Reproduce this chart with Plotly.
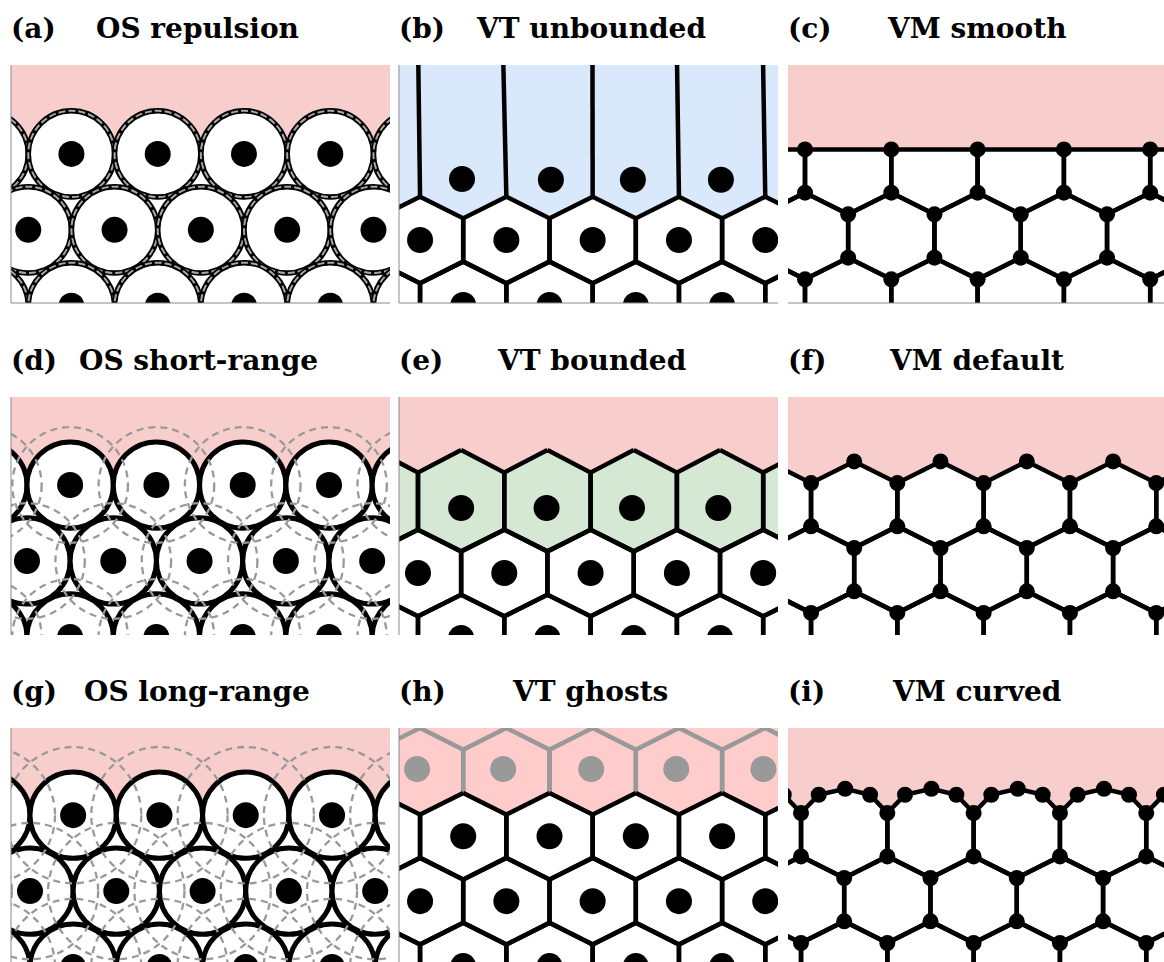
import math
import plotly.graph_objects as go

# ---------------------------------------------------------------- figure frame
FIG_W, FIG_H = 1164, 962
PX_X = 86.3        # pixels per lattice spacing (horizontal)
PX_Y_OS = 86.3     # circle panels: 1:1 aspect
PX_Y_HEX = 75.0    # tessellation / vertex panels: vertically squashed

COL_LEFT = [11, 399, 788]
COL_RIGHT = [390, 778, 1164]
ROW_TOP = [65, 397, 728]
ROW_BOTTOM = [303, 635, 962]
TITLE_Y = [28, 360, 691]

PINK = "#f8cecc"
PINK_GHOST = "#ffcccc"
BLUE = "#dae8fc"
GREEN = "#d5e8d4"
GREY = "#999999"
EDGE_W = 4.5

# ---------------------------------------------------------------- panel text
panel_labels = ["(a)", "(b)", "(c)", "(d)", "(e)", "(f)", "(g)", "(h)", "(i)"]
panel_titles = ["OS repulsion", "VT unbounded", "VM smooth",
                "OS short-range", "VT bounded", "VM default",
                "OS long-range", "VT ghosts", "VM curved"]
title_centres = [197, 591, 977, 198, 591, 976, 197, 590, 976]

# ---------------------------------------------------------------- lattice data (lattice units)
# off-lattice spheres: x of first centre in top row, row heights
os_rep_x0, os_rep_rows = 0.70, [1.03, 1.91, 2.79]
os_short_x0, os_short_rows = 0.685, [1.02, 1.90, 2.78]
os_long_x0, os_long_rows = 0.72, [1.01, 1.89, 2.77]
cell_radius = 0.5
short_range_radius = 0.67
long_range_radius = 0.79

# Voronoi tessellation, unbounded boundary cells
vt_unb_rows_x0 = [0.244, 0.744]
vt_unb_rows_y = [2.333, 3.199]
vt_unb_top_x = [0.73, 1.76, 2.71, 3.73]
vt_unb_top_y = [1.52, 1.53, 1.53, 1.53]
vt_unb_ray_top_x = [0.224, 1.209, 2.242, 3.222, 4.219]

# Voronoi tessellation, bounded boundary cells
vt_bnd_rows_x0 = [0.22, 0.72]
vt_bnd_rows_y = [2.347, 3.213]
vt_bnd_top_x0 = 0.72
vt_bnd_top_apex_y = 0.707
vt_bnd_top_shoulder_y = 1.007
vt_bnd_top_nuc_x = [0.72, 1.71, 2.70, 3.70]
vt_bnd_top_nuc_y = [1.48, 1.48, 1.48, 1.48]

# Voronoi tessellation with ghost cells
vt_gh_ghost_x0, vt_gh_ghost_y = 0.244, 0.577
vt_gh_rows_x0 = [0.744, 0.244, 0.744]
vt_gh_rows_y = [1.443, 2.309, 3.175]
vt_gh_ghost_nuc_x = [0.209, 1.207, 2.227, 3.213, 4.223]
vt_gh_ghost_nuc_y = [0.547, 0.547, 0.547, 0.547, 0.547]

# vertex models
vm_smooth_top_x0, vm_smooth_top_y = 0.697, 1.414
vm_smooth_rows_x0, vm_smooth_rows_y = [0.197, 0.697], [2.28, 3.146]
vm_default_top_x0, vm_default_top_y = 0.767, 1.436
vm_default_rows_x0, vm_default_rows_y = [0.267, 0.767], [2.302, 3.168]
vm_curved_top_x0, vm_curved_top_y = 0.651, 1.423
vm_curved_rows_x0, vm_curved_rows_y = [0.151, 0.651], [2.289, 3.155]
vm_curved_arc_frac = [0.205, 0.511, 0.80]
vm_curved_arc_rise = [0.244, 0.324, 0.244]

# ---------------------------------------------------------------- helpers
HR = 1 / math.sqrt(3)   # hexagon circumradius for unit spacing
COLS = range(-1, 6)

fig = go.Figure()
shapes = []
annotations = []
axes = {}


def ids(p):
    n = "" if p == 0 else str(p + 1)
    return "x" + n, "y" + n


def hexagon(cx, cy):
    pts = [(cx, cy - HR), (cx + 0.5, cy - HR / 2), (cx + 0.5, cy + HR / 2),
           (cx, cy + HR), (cx - 0.5, cy + HR / 2), (cx - 0.5, cy - HR / 2)]
    return pts + [pts[0]]


def centres(rows_x0, rows_y):
    return [(x0 + k, y) for x0, y in zip(rows_x0, rows_y) for k in COLS]


def add_paths(p, paths, color="black", width=EDGE_W):
    xid, yid = ids(p)
    xs, ys = [], []
    for path in paths:
        for x, y in path:
            xs.append(x)
            ys.append(y)
        xs.append(None)
        ys.append(None)
    fig.add_trace(go.Scatter(x=xs, y=ys, mode="lines", xaxis=xid, yaxis=yid,
                             line=dict(color=color, width=width, simplify=False),
                             hoverinfo="skip"))


def add_fill(p, poly, color):
    xid, yid = ids(p)
    xs = [q[0] for q in poly] + [poly[0][0]]
    ys = [q[1] for q in poly] + [poly[0][1]]
    fig.add_trace(go.Scatter(x=xs, y=ys, mode="lines", fill="toself", fillcolor=color,
                             line=dict(width=0, color=color), xaxis=xid, yaxis=yid,
                             hoverinfo="skip"))


def add_dots(p, pts, size, color="black"):
    xid, yid = ids(p)
    fig.add_trace(go.Scatter(x=[q[0] for q in pts], y=[q[1] for q in pts], mode="markers",
                             xaxis=xid, yaxis=yid, cliponaxis=True,
                             marker=dict(size=size, color=color, line=dict(width=0)),
                             hoverinfo="skip"))


def upper_zigzag(x0, yc):
    pts = []
    for k in range(-2, 7):
        pts += [(x0 + k - 0.5, yc - HR / 2), (x0 + k, yc - HR)]
    return pts


def lower_zigzag(x0, yc):
    pts = []
    for k in range(-2, 7):
        pts += [(x0 + k - 0.5, yc + HR / 2), (x0 + k, yc + HR)]
    return pts


def medium_above(zz):
    return [(zz[0][0], -1)] + zz + [(zz[-1][0], -1)]


def unique(pts):
    seen, out = set(), []
    for x, y in pts:
        key = (round(x, 3), round(y, 3))
        if key not in seen:
            seen.add(key)
            out.append((x, y))
    return out


# ---------------------------------------------------------------- axes
for p in range(9):
    r, c = divmod(p, 3)
    sy = PX_Y_OS if c == 0 else PX_Y_HEX
    n = "" if p == 0 else str(p + 1)
    xid, yid = ids(p)
    axes["xaxis" + n] = dict(domain=[COL_LEFT[c] / FIG_W, COL_RIGHT[c] / FIG_W],
                             range=[0, (COL_RIGHT[c] - COL_LEFT[c]) / PX_X],
                             anchor=yid, visible=False, fixedrange=True)
    axes["yaxis" + n] = dict(domain=[1 - ROW_BOTTOM[r] / FIG_H, 1 - ROW_TOP[r] / FIG_H],
                             range=[(ROW_BOTTOM[r] - ROW_TOP[r]) / sy, 0],
                             anchor=xid, visible=False, fixedrange=True)


# ---------------------------------------------------------------- off-lattice sphere panels
def os_panel(p, x0, rows_y, halo_radius, overlay_ring):
    xid, yid = ids(p)
    rows_x0 = [x0 - 0.5 * (j % 2) for j in range(len(rows_y))]
    cells = centres(rows_x0, rows_y)
    shapes.append(dict(type="rect", xref=xid, yref=yid, x0=-2, x1=7, y0=-1, y1=rows_y[0],
                       fillcolor=PINK, line=dict(width=0), layer="below"))
    for cx, cy in cells:
        shapes.append(dict(type="circle", xref=xid, yref=yid,
                           x0=cx - cell_radius, x1=cx + cell_radius,
                           y0=cy - cell_radius, y1=cy + cell_radius,
                           fillcolor="white", line=dict(color="black", width=5.5 if overlay_ring else 5),
                           layer="below"))
        if overlay_ring:
            shapes.append(dict(type="circle", xref=xid, yref=yid,
                               x0=cx - cell_radius, x1=cx + cell_radius,
                               y0=cy - cell_radius, y1=cy + cell_radius,
                               line=dict(color="#a6a6a6", width=2, dash="7px,3px"),
                               layer="below"))
    if halo_radius:
        for cx, cy in cells:
            shapes.append(dict(type="circle", xref=xid, yref=yid,
                               x0=cx - halo_radius, x1=cx + halo_radius,
                               y0=cy - halo_radius, y1=cy + halo_radius,
                               line=dict(color=GREY, width=2.3, dash="7px,5px"),
                               layer="below"))
    add_dots(p, cells, 26)


os_panel(0, os_rep_x0, os_rep_rows, None, True)
os_panel(3, os_short_x0, os_short_rows, short_range_radius, False)
os_panel(6, os_long_x0, os_long_rows, long_range_radius, False)

# ---------------------------------------------------------------- (b) VT unbounded
zz = upper_zigzag(vt_unb_rows_x0[0], vt_unb_rows_y[0])
add_fill(1, medium_above(zz), BLUE)
cells = centres(vt_unb_rows_x0, vt_unb_rows_y)
rays = [[(vt_unb_rows_x0[0] + i, vt_unb_rows_y[0] - HR), (xt, 0.0)]
        for i, xt in enumerate(vt_unb_ray_top_x)]
add_paths(1, [hexagon(cx, cy) for cx, cy in cells] + rays)
add_dots(1, cells + list(zip(vt_unb_top_x, vt_unb_top_y)), 26)

# ---------------------------------------------------------------- (e) VT bounded
add_fill(4, [(-2, -1), (7, -1), (7, vt_bnd_top_shoulder_y), (-2, vt_bnd_top_shoulder_y)], PINK)
top_cells = []
y_low = vt_bnd_rows_y[0] - HR
y_bot = vt_bnd_rows_y[0] - HR / 2
for k in COLS:
    cx = vt_bnd_top_x0 + k
    top_cells.append([(cx, vt_bnd_top_apex_y), (cx + 0.5, vt_bnd_top_shoulder_y),
                      (cx + 0.5, y_low), (cx, y_bot), (cx - 0.5, y_low),
                      (cx - 0.5, vt_bnd_top_shoulder_y), (cx, vt_bnd_top_apex_y)])
for poly in top_cells:
    add_fill(4, poly[:-1], GREEN)
cells = centres(vt_bnd_rows_x0, vt_bnd_rows_y)
add_paths(4, top_cells + [hexagon(cx, cy) for cx, cy in cells])
add_dots(4, list(zip(vt_bnd_top_nuc_x, vt_bnd_top_nuc_y)) + cells, 26)

# ---------------------------------------------------------------- (h) VT ghosts
zz = lower_zigzag(vt_gh_ghost_x0, vt_gh_ghost_y)
add_fill(7, medium_above(zz), PINK_GHOST)
ghosts = centres([vt_gh_ghost_x0], [vt_gh_ghost_y])
add_paths(7, [hexagon(cx, cy) for cx, cy in ghosts], color=GREY)
cells = centres(vt_gh_rows_x0, vt_gh_rows_y)
add_paths(7, [hexagon(cx, cy) for cx, cy in cells])
add_dots(7, list(zip(vt_gh_ghost_nuc_x, vt_gh_ghost_nuc_y)), 26, color=GREY)
add_dots(7, cells, 26)


# ---------------------------------------------------------------- vertex model panels
def vm_lower_rows(rows_x0, rows_y):
    return [hexagon(cx, cy) for cx, cy in centres(rows_x0, rows_y)]


VERTEX_SIZE = 16

# (c) smooth: boundary cells capped by a straight edge through their shoulders
y_cap = vm_smooth_top_y - HR / 2
add_fill(2, [(-2, -1), (7, -1), (7, y_cap), (-2, y_cap)], PINK)
paths = [[(-2, y_cap), (7, y_cap)]]
for k in COLS:
    cx = vm_smooth_top_x0 + k
    paths.append([(cx - 0.5, y_cap), (cx - 0.5, vm_smooth_top_y + HR / 2), (cx, vm_smooth_top_y + HR),
                  (cx + 0.5, vm_smooth_top_y + HR / 2), (cx + 0.5, y_cap)])
paths += vm_lower_rows(vm_smooth_rows_x0, vm_smooth_rows_y)
add_paths(2, paths)
add_dots(2, unique([q for path in paths[1:] for q in path]), VERTEX_SIZE)

# (f) default: boundary cells are regular hexagons
zz = upper_zigzag(vm_default_top_x0, vm_default_top_y)
add_fill(5, medium_above(zz), PINK)
paths = [hexagon(cx, cy) for cx, cy in centres([vm_default_top_x0], [vm_default_top_y])]
paths += vm_lower_rows(vm_default_rows_x0, vm_default_rows_y)
add_paths(5, paths)
add_dots(5, unique([q for path in paths for q in path]), VERTEX_SIZE)

# (i) curved: boundary edges subdivided into arcs
y_sh = vm_curved_top_y - HR / 2
chain = []
for k in range(-2, 7):
    xl = vm_curved_top_x0 - 0.5 + k
    chain.append((xl, y_sh))
    for f, rise in zip(vm_curved_arc_frac, vm_curved_arc_rise):
        chain.append((xl + f, y_sh - rise))
add_fill(8, medium_above(chain), PINK)
paths = [chain]
for k in COLS:
    cx = vm_curved_top_x0 + k
    paths.append([(cx - 0.5, y_sh), (cx - 0.5, vm_curved_top_y + HR / 2), (cx, vm_curved_top_y + HR),
                  (cx + 0.5, vm_curved_top_y + HR / 2), (cx + 0.5, y_sh)])
paths += vm_lower_rows(vm_curved_rows_x0, vm_curved_rows_y)
add_paths(8, paths)
add_dots(8, unique([q for path in paths for q in path]), VERTEX_SIZE)

# ---------------------------------------------------------------- frame lines
for r in range(3):
    for c in (0, 1):
        shapes.append(dict(type="line", xref="paper", yref="paper",
                           x0=COL_LEFT[c] / FIG_W, x1=COL_LEFT[c] / FIG_W,
                           y0=1 - ROW_TOP[r] / FIG_H, y1=1 - ROW_BOTTOM[r] / FIG_H,
                           line=dict(color="#8a8a8a", width=1), layer="above"))
for c in range(3):
    shapes.append(dict(type="line", xref="paper", yref="paper",
                       x0=COL_LEFT[c] / FIG_W, x1=COL_RIGHT[c] / FIG_W,
                       y0=1 - ROW_BOTTOM[0] / FIG_H, y1=1 - ROW_BOTTOM[0] / FIG_H,
                       line=dict(color="#8a8a8a", width=1), layer="above"))

# ---------------------------------------------------------------- titles
TITLE_FONT = dict(family="DejaVu Serif", size=28, color="black")
for p in range(9):
    r, c = divmod(p, 3)
    ypos = 1 - TITLE_Y[r] / FIG_H
    annotations.append(dict(text="<b>%s</b>" % panel_labels[p], x=(COL_LEFT[c] - 2) / FIG_W, y=ypos,
                            xref="paper", yref="paper", xanchor="left", yanchor="middle",
                            showarrow=False, font=TITLE_FONT))
    annotations.append(dict(text="<b>%s</b>" % panel_titles[p], x=title_centres[p] / FIG_W, y=ypos,
                            xref="paper", yref="paper", xanchor="center", yanchor="middle",
                            showarrow=False, font=TITLE_FONT))

fig.update_layout(width=FIG_W, height=FIG_H, margin=dict(l=0, r=0, t=0, b=0),
                  paper_bgcolor="white", plot_bgcolor="white", showlegend=False,
                  shapes=shapes, annotations=annotations, **axes)

fig.write_html("out.html")
